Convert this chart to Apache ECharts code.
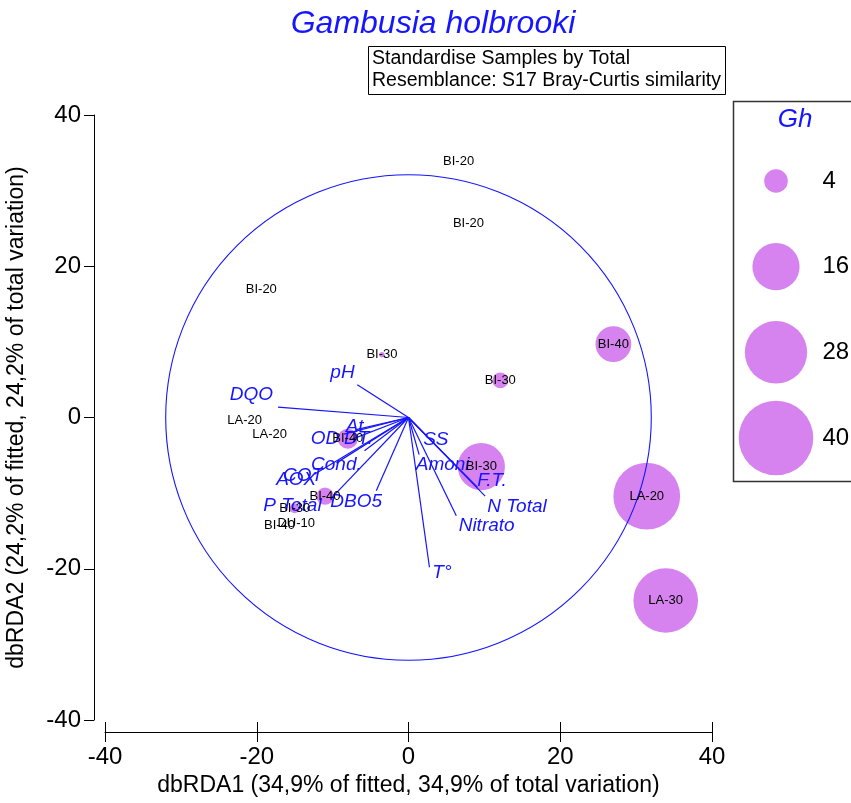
<!DOCTYPE html>
<html><head><meta charset="utf-8">
<script src="https://cdn.jsdelivr.net/npm/echarts@6/dist/echarts.min.js"></script>
<style>html,body{margin:0;padding:0;background:#fff}#c{width:851px;height:803px}</style>
</head><body><div id="c"></div>
<script>
// ---- data ----
const sampleNames = ['BI-20','BI-20','BI-20','BI-30','BI-30','BI-40','BI-30','LA-20','LA-30','LA-20','LA-20','BI-40','BI-40','BI-30','BI-40','DU-10'];
const sampleX     = [6.6, 7.9, -19.4, -3.5, 12.1, 27.0, 9.6, 31.4, 33.9, -21.6, -18.3, -8.0, -11.0, -15.0, -17.0, -14.8];
const sampleY     = [33.9, 25.7, 17.0, 8.3, 4.9, 9.7, -6.5, -10.4, -24.2, -0.35, -2.2, -2.8, -10.4, -12.0, -14.3, -14.0];
const sampleGh    = [0, 0, 0, 0.2, 1.8, 9.2, 16, 32, 30, 0, 0, 2.9, 2.1, 0.7, 0, 0];

const vectorNames  = ['pH','DQO','At','OD','DT.','Cond.','AOX','COT','P Total','DBO5','SS','Amoni','F.T.','N Total','Nitrato','T°'];
const vectorX      = [-6.75, -17.2, -6.9, -8.5, -7.5, -5.8, -12.4, -9.5, -10.2, -4.25, 3.0, 1.4, 9.1, 10.1, 6.3, 2.76];
const vectorY      = [4.34, 1.36, -1.6, -2.2, -2.9, -4.4, -7.5, -6.0, -10.7, -9.7, -3.1, -4.9, -9.25, -10.4, -13.0, -19.8];
const vectorLabelX = [-8.7, -20.7, -7.1, -11.0, -6.6, -9.5, -14.8, -13.9, -15.3, -6.9, 3.6, 4.5, 11.0, 14.3, 10.3, 4.4];
const vectorLabelY = [5.9, 3.0, -1.2, -2.8, -2.8, -6.3, -8.2, -7.7, -11.7, -11.1, -3.0, -6.3, -8.4, -11.75, -14.3, -20.5];

const circleRadius = 32;
const legendValues = [4, 16, 28, 40];

const titleText = 'Gambusia holbrooki';
const boxLines = ['Standardise Samples by Total', 'Resemblance: S17 Bray-Curtis similarity'];
const xName = 'dbRDA1 (34,9% of fitted, 34,9% of total variation)';
const yName = 'dbRDA2 (24,2% of fitted, 24,2% of total variation)';

// ---- chart ----
const FONT = 'Liberation Sans, Arial, sans-serif';
const BLUE = '#1515ff';
const BUBBLE = '#d683ef';
const CLEAR = 'rgba(0,0,0,0)';
const sizeOf = v => v > 0 ? 11.8 * Math.sqrt(v) : 0;

const chart = echarts.init(document.getElementById('c'), null, {renderer: 'canvas'});

const samples = sampleNames.map((n, i) => [sampleX[i], sampleY[i], sampleGh[i], n]);
const vectors = vectorNames.map((n, i) => [vectorX[i], vectorY[i], vectorLabelX[i], vectorLabelY[i]]);

const axisCommon = {
  type: 'value', min: -40, max: 40, interval: 20,
  splitLine: {show: false},
  axisLine: {show: true, onZero: false, lineStyle: {color: '#000', width: 1}},
  axisTick: {show: true, length: 10, lineStyle: {color: '#000', width: 1}},
  axisLabel: {fontSize: 24, color: '#000', fontFamily: FONT, margin: 13},
  nameLocation: 'middle',
  nameTextStyle: {fontSize: 23, color: '#000', fontFamily: FONT}
};

const option = {
  animation: false,
  backgroundColor: '#fff',
  grid: [
    {left: 105, top: 115, width: 607, height: 605, outerBoundsMode: 'none', containLabel: false},
    {left: 740, top: 181, width: 100, height: 257, outerBoundsMode: 'none', containLabel: false}
  ],
  xAxis: [
    Object.assign({}, axisCommon, {gridIndex: 0, position: 'bottom', offset: 12, name: xName, nameGap: 38}),
    Object.assign({}, axisCommon, {gridIndex: 0, position: 'bottom', offset: 12,
      axisLine: {show: false, onZero: false}, axisLabel: {show: false},
      axisTick: {show: true, inside: true, length: 10, lineStyle: {color: '#000', width: 1}}}),
    {type: 'value', gridIndex: 1, min: 0, max: 1, show: false}
  ],
  yAxis: [
    Object.assign({}, axisCommon, {gridIndex: 0, position: 'left', offset: 11, name: yName, nameGap: 66, nameRotate: 90}),
    {type: 'value', gridIndex: 1, min: 0, max: 3, inverse: true, show: false}
  ],
  graphic: [
    {type: 'text', style: {text: titleText, x: 433, y: 24, fill: BLUE, font: 'italic 32px ' + FONT, textAlign: 'center', textVerticalAlign: 'middle'}},
    {type: 'rect', shape: {x: 368.5, y: 46.5, width: 357, height: 48}, style: {fill: '#fff', stroke: '#000', lineWidth: 1}, z: 1},
    {type: 'text', style: {text: boxLines[0], x: 372, y: 59, fill: '#000', font: '19.5px ' + FONT, textVerticalAlign: 'middle'}, z: 2},
    {type: 'text', style: {text: boxLines[1], x: 372, y: 81, fill: '#000', font: '19.5px ' + FONT, textVerticalAlign: 'middle'}, z: 2},
    {type: 'rect', shape: {x: 733.5, y: 101.5, width: 140, height: 380}, style: {fill: '#fff', stroke: '#333', lineWidth: 1.5}, z: -1},
    {type: 'text', style: {text: 'Gh', x: 795, y: 120, fill: BLUE, font: 'italic 26px ' + FONT, textAlign: 'center', textVerticalAlign: 'middle'}, z: 2}
  ],
  series: [
    {
      type: 'scatter', xAxisIndex: 0, yAxisIndex: 0, z: 1,
      data: samples,
      symbolSize: d => sizeOf(d[2]),
      itemStyle: {color: BUBBLE, opacity: 1},
      silent: true
    },
    {
      type: 'custom', xAxisIndex: 0, yAxisIndex: 0, z: 2,
      data: [[0, 0, circleRadius]],
      encode: {x: 0, y: 1},
      renderItem: (params, api) => {
        const c = api.coord([api.value(0), api.value(1)]);
        const s = api.size([api.value(2), api.value(2)]);
        return {type: 'circle', shape: {cx: c[0], cy: c[1], r: s[0]},
          style: {fill: 'none', stroke: BLUE, lineWidth: 1.1}};
      }
    },
    {
      type: 'custom', xAxisIndex: 0, yAxisIndex: 0, z: 3,
      data: vectors,
      encode: {x: 0, y: 1},
      renderItem: (params, api) => {
        const o = api.coord([0, 0]);
        const e = api.coord([api.value(0), api.value(1)]);
        const l = api.coord([api.value(2), api.value(3)]);
        return {type: 'group', children: [
          {type: 'line', shape: {x1: o[0], y1: o[1], x2: e[0], y2: e[1]}, style: {stroke: BLUE, lineWidth: 1.2}},
          {type: 'text', x: l[0], y: l[1], style: {text: vectorNames[params.dataIndex], fill: BLUE,
            font: 'italic 19px ' + FONT, align: 'center', verticalAlign: 'middle'}}
        ]};
      }
    },
    {
      type: 'scatter', xAxisIndex: 0, yAxisIndex: 0, z: 4,
      data: samples,
      symbolSize: 1,
      itemStyle: {color: CLEAR},
      label: {show: true, position: 'inside', formatter: p => p.data[3], fontSize: 13, color: '#000', opacity: 1, fontFamily: FONT},
      silent: true
    },
    {
      type: 'scatter', xAxisIndex: 2, yAxisIndex: 1, z: 4,
      data: legendValues.map((v, i) => [0.36, i, v]),
      symbolSize: d => sizeOf(d[2]),
      itemStyle: {color: BUBBLE, opacity: 1},
      clip: false, silent: true
    },
    {
      type: 'scatter', xAxisIndex: 2, yAxisIndex: 1, z: 4,
      data: legendValues.map((v, i) => [0.82, i, v]),
      symbolSize: 1, itemStyle: {color: CLEAR}, clip: false, silent: true,
      label: {show: true, position: 'right', distance: 0, formatter: p => String(p.data[2]), fontSize: 24, color: '#000', opacity: 1, fontFamily: FONT}
    }
  ]
};
chart.setOption(option);
</script></body></html>
